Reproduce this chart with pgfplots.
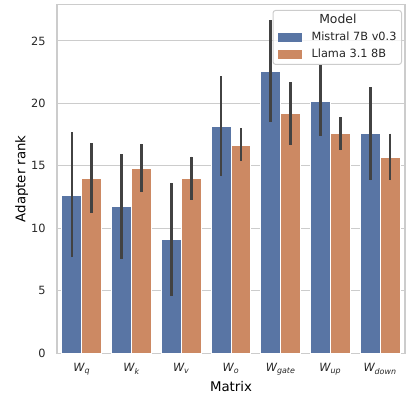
\documentclass[border=0pt]{standalone}
\usepackage{fontspec}
\setmainfont{DejaVu Sans}
\usepackage{amsmath}
\usepackage{pgfplots}
\usepackage{pgfplotstable}
\pgfplotsset{compat=1.18}
\definecolor{cblue}{HTML}{5975A4}
\definecolor{corange}{HTML}{CC8963}
\definecolor{errc}{HTML}{424242}
\definecolor{gridc}{HTML}{CCCCCC}
\definecolor{txt}{HTML}{262626}

\pgfplotstableread{
x y ep em
0 12.62 5.08 4.92
1 11.74 4.18 4.15
2 9.08 4.56 4.45
3 18.13 4.05 3.95
4 22.54 4.12 4.02
5 20.14 2.96 2.72
6 17.56 3.74 3.70
}\mistral

\pgfplotstableread{
x y ep em
0 13.96 2.84 2.70
1 14.79 1.97 1.87
2 13.96 1.79 1.68
3 16.66 1.35 1.24
4 19.16 2.54 2.48
5 17.56 1.36 1.30
6 15.70 1.88 1.84
}\llama

\begin{document}
\begin{tikzpicture}
\useasboundingbox (0,0) rectangle (304.5pt,297.75pt);
\begin{axis}[
  at={(42.75pt,32.7pt)}, anchor=south west,
  scale only axis, width=261pt, height=261.8pt,
  xmin=-0.5, xmax=6.5, ymin=0, ymax=27.93,
  xtick={0,1,2,3,4,5,6},
  xticklabels={$\textit{W}_{\textit{q}}$,$\textit{W}_{\textit{k}}$,$\textit{W}_{\textit{v}}$,$\textit{W}_{\textit{o}}$,$\textit{W}_{\textit{gate}}$,$\textit{W}_{\textit{up}}$,$\textit{W}_{\textit{down}}$},
  ytick={0,5,10,15,20,25},
  major tick length=0pt,
  ymajorgrids, major grid style={color=gridc, line width=0.8pt},
  axis line style={color=gridc, line width=1pt},
  /pgf/number format/assume math mode=true,
  tick label style={font=\fontsize{8.5pt}{10pt}\selectfont, text=txt},
  yticklabel style={xshift=-5pt},
  xticklabel style={yshift=-4pt},
  xlabel={Matrix}, ylabel={Adapter rank},
  label style={font=\fontsize{9.3pt}{11pt}\selectfont, text=txt},
  every axis x label/.style={at={(axis description cs:0.5,-0.0954)}, anchor=center},
  every axis y label/.style={at={(axis description cs:-0.1014,0.5)}, rotate=90, anchor=center},
  legend cell align=left,
  legend style={at={(0.9914,0.984)}, anchor=north east, draw=gridc, line width=0.75pt,
    rounded corners=2pt, fill=white, fill opacity=0.8, draw opacity=1, text opacity=1,
    font=\fontsize{8.5pt}{10pt}\selectfont, text=txt,
    inner xsep=3.75pt, inner ysep=3.4pt, row sep=4.4pt, column sep=7.5pt,
    nodes={inner sep=0pt, text height=6.5pt, text depth=1.8pt}},
]
\addlegendimage{empty legend}
\addlegendentry{\hspace*{5.8pt}\fontsize{9.3pt}{11pt}\selectfont Model}
\addplot[ybar, bar width=0.4, bar shift=0pt, fill=cblue, draw=white, line width=0.75pt,
  legend image code/.code={\fill[cblue, sharp corners, fill opacity=1] (0pt,-2.95pt) rectangle (16.9pt,2.95pt);},
  error bars/.cd, y dir=both, y explicit, error mark=none,
  error bar style={line width=2pt, color=errc}]
  table[x expr=\thisrow{x}-0.2, y=y, y error plus=ep, y error minus=em] {\mistral};
\addlegendentry{Mistral 7B v0.3}
\addplot[ybar, bar width=0.4, bar shift=0pt, fill=corange, draw=white, line width=0.75pt,
  legend image code/.code={\fill[corange, sharp corners, fill opacity=1] (0pt,-2.95pt) rectangle (16.9pt,2.95pt);},
  error bars/.cd, y dir=both, y explicit, error mark=none,
  error bar style={line width=2pt, color=errc}]
  table[x expr=\thisrow{x}+0.2, y=y, y error plus=ep, y error minus=em] {\llama};
\addlegendentry{Llama 3.1 8B}
\end{axis}
\end{tikzpicture}
\end{document}
